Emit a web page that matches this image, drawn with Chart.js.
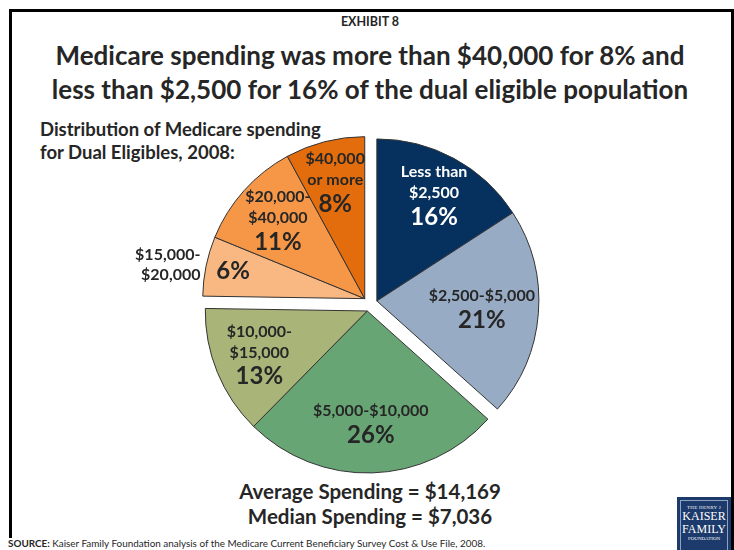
<!DOCTYPE html>
<html>
<head>
<meta charset="utf-8">
<script src="https://cdn.jsdelivr.net/npm/chart.js@4.4.1/dist/chart.umd.min.js"></script>
<style>
  html, body { margin: 0; padding: 0; background: #fff; }
  body { width: 734px; height: 550px; position: relative; overflow: hidden; font-family: Lato, "Open Sans", sans-serif; color: #262626; }
  #frame { position: absolute; left: 9px; top: 9px; width: 719px; height: 526px; border: 3px solid #000; border-bottom: none; }
  #rightEdge { position: absolute; left: 731px; top: 9px; width: 3px; height: 541px; background: #000; }
  #chartWrap { position: absolute; left: 0; top: 0; width: 734px; height: 550px; }
  .t { position: absolute; font-weight: bold; white-space: nowrap; }
  #exhibit { left: 0; width: 740px; text-align: center; top: 14px; font-size: 12.5px; }
  #title { left: 0; width: 740px; text-align: center; top: 38px; font-size: 26px; line-height: 34px; }
  #sub { left: 40px; top: 118px; font-size: 18.5px; line-height: 23px; }
  #stats { left: 0; width: 740px; text-align: center; top: 479px; font-size: 20.5px; line-height: 25px; }
  #source { left: 8px; top: 537px; font-size: 9.9px; font-weight: normal; }
  #logo { position: absolute; left: 677px; top: 497px; width: 54px; height: 60px; background: #1c3a6b; color: #fff; font-family: "Liberation Serif", serif; text-align: center; }
  #logo .in { position: absolute; left: 3px; top: 3px; right: 3px; bottom: 0; border: 1px solid #8ea3c4; border-bottom: none; }
</style>
</head>
<body>
<div id="frame"></div>
<div id="rightEdge"></div>
<div class="t" id="exhibit">EXHIBIT 8</div>
<div class="t" id="title">Medicare spending was more than $40,000 for 8% and<br>less than $2,500 for 16% of the dual eligible population</div>
<div class="t" id="sub">Distribution of Medicare spending<br>for Dual Eligibles, 2008:</div>
<div class="t" id="stats">Average Spending = $14,169<br>Median Spending = $7,036</div>
<div class="t" id="source"><b>SOURCE:</b> Kaiser Family Foundation analysis of the Medicare Current Beneficiary Survey Cost &amp; Use File, 2008.</div>
<div id="logo"><div class="in">
  <div style="font-size:5px;margin-top:4px;letter-spacing:0.3px;">THE HENRY J</div>
  <div style="font-size:12px;line-height:13px;">KAISER</div>
  <div style="font-size:12px;line-height:13px;">FAMILY</div>
  <div style="font-size:5px;">FOUNDATION</div>
</div></div>
<div id="chartWrap"><canvas id="c" width="734" height="550"></canvas></div>
<script>
// ---- data ----
const categories = ["Less than $2,500", "$2,500-$5,000", "$5,000-$10,000", "$10,000-$15,000", "$15,000-$20,000", "$20,000-$40,000", "$40,000 or more"];
const shares = [16, 21, 26, 13, 6, 11, 8];
const labelLines = [["Less than", "$2,500"], ["$2,500-$5,000"], ["$5,000-$10,000"], ["$10,000-", "$15,000"], ["$15,000-", "$20,000"], ["$20,000-", "$40,000"], ["$40,000", "or more"]];
const pctLabels = ["16%", "21%", "26%", "13%", "6%", "11%", "8%"];
const explodeGroups = [0, 0, 1, 1, 2, 2, 2];

// ---- styles ----
const colors = ["#06315f", "#97abc4", "#68a574", "#a8b478", "#f9b782", "#f69747", "#e36c0c"];
const textColors = ["#ffffff", "#262626", "#262626", "#262626", "#262626", "#262626", "#262626"];
const labelRadius = [0.74, 0.65, 0.70, 0.72, 0.83, 0.72, 0.74];
const explodeDist = 7.5;

const groupExplode = {
  id: 'groupExplode',
  afterDatasetUpdate(chart, args) {
    const arcs = chart.getDatasetMeta(args.index).data;
    const ranges = {};
    arcs.forEach((a, i) => {
      const g = explodeGroups[i];
      if (!ranges[g]) ranges[g] = [a.startAngle, a.endAngle];
      ranges[g][0] = Math.min(ranges[g][0], a.startAngle);
      ranges[g][1] = Math.max(ranges[g][1], a.endAngle);
    });
    arcs.forEach((a, i) => {
      const r = ranges[explodeGroups[i]];
      const mid = (r[0] + r[1]) / 2;
      a.x += explodeDist * Math.cos(mid);
      a.y += explodeDist * Math.sin(mid);
    });
  }
};

const sliceLabels = {
  id: 'sliceLabels',
  afterDatasetsDraw(chart) {
    const ctx = chart.ctx;
    const arcs = chart.getDatasetMeta(0).data;
    const fam = 'Lato, "Open Sans", sans-serif';
    arcs.forEach((a, i) => {
      const mid = (a.startAngle + a.endAngle) / 2;
      const R = a.outerRadius;
      ctx.save();
      ctx.fillStyle = textColors[i];
      ctx.textBaseline = 'middle';
      if (i === 4) {
        const ox = a.x + Math.cos(mid) * R * 1.035;
        const oy = a.y + Math.sin(mid) * R * 1.035;
        ctx.textAlign = 'right';
        ctx.font = 'bold 16px ' + fam;
        ctx.fillText(labelLines[i][0], ox, oy - 10);
        ctx.fillText(labelLines[i][1], ox, oy + 10);
        ctx.textAlign = 'center';
        ctx.font = 'bold 24px ' + fam;
        ctx.fillText(pctLabels[i], a.x + Math.cos(mid) * R * labelRadius[i], a.y + Math.sin(mid) * R * labelRadius[i]);
      } else {
        const cx = a.x + Math.cos(mid) * R * labelRadius[i];
        const cy = a.y + Math.sin(mid) * R * labelRadius[i];
        const lines = labelLines[i];
        const total = lines.length * 21 + 25;
        let y = cy - total / 2 + 10;
        ctx.textAlign = 'center';
        ctx.font = 'bold 16px ' + fam;
        lines.forEach(l => { ctx.fillText(l, cx, y); y += 21; });
        ctx.font = 'bold 24px ' + fam;
        ctx.fillText(pctLabels[i], cx, y + 3);
      }
      ctx.restore();
    });
  }
};

new Chart(document.getElementById('c'), {
  type: 'pie',
  data: {
    labels: categories,
    datasets: [{
      data: shares,
      backgroundColor: colors,
      borderColor: '#333333',
      borderWidth: 1,
      radius: 162
    }]
  },
  options: {
    responsive: false,
    animation: false,
    events: [],
    layout: { padding: { left: 100, right: 94, top: 100, bottom: 42 } },
    plugins: { legend: { display: false }, tooltip: { enabled: false }, title: { display: false } }
  },
  plugins: [groupExplode, sliceLabels]
});
</script>
</body>
</html>
